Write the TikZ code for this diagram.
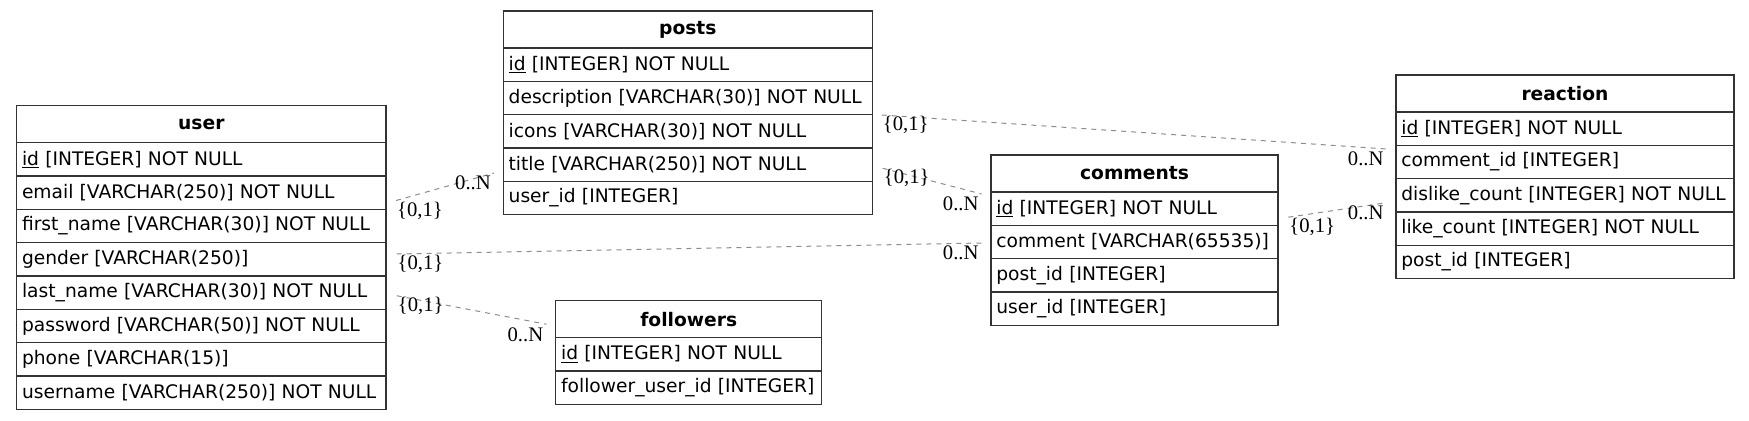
\documentclass[tikz,border=0pt]{standalone}
\usepackage{fontspec}
\setmainfont{DejaVu Sans}
\newfontfamily\cardfont{Liberation Serif}
\usetikzlibrary{positioning}

\definecolor{tblline}{HTML}{333333}
\definecolor{edgegray}{HTML}{8C8C8C}

\tikzset{
  tblhead/.style={draw=tblline, line width=0.9pt, text width=#1, align=center,
    minimum height=27.75pt, inner xsep=4pt, inner ysep=0pt, outer sep=0pt,
    font=\fontsize{14pt}{17pt}\selectfont\bfseries},
  tblrow/.style={draw=tblline, line width=0.9pt, text width=#1, align=left,
    minimum height=25pt, inner xsep=4pt, inner ysep=0pt, outer sep=0pt,
    font=\fontsize{14pt}{17pt}\selectfont},
  rel/.style={draw=edgegray, line width=0.75pt, dash pattern=on 3.75pt off 3.75pt},
  cardone/.style={anchor=north west, inner sep=0.5pt, font=\cardfont\fontsize{15.5pt}{17pt}\selectfont},
  cardmany/.style={anchor=north east, inner sep=2pt, font=\cardfont\fontsize{15.5pt}{17pt}\selectfont}
}

\begin{document}
\begin{tikzpicture}[x=1pt, y=-1pt]
    \useasboundingbox (0,0) rectangle (1311.75,315.75);

    % user
    \node[tblhead=269pt, anchor=north west] (user) at (12.5,79.3) {user};
    \node[tblrow=269pt, below=0pt of user] (user-id) {\underline{id} [INTEGER] NOT NULL};
    \node[tblrow=269pt, below=0pt of user-id] (user-email) {email [VARCHAR(250)] NOT NULL};
    \node[tblrow=269pt, below=0pt of user-email] (user-firstname) {first\_name [VARCHAR(30)] NOT NULL};
    \node[tblrow=269pt, below=0pt of user-firstname] (user-gender) {gender [VARCHAR(250)]};
    \node[tblrow=269pt, below=0pt of user-gender] (user-lastname) {last\_name [VARCHAR(30)] NOT NULL};
    \node[tblrow=269pt, below=0pt of user-lastname] (user-password) {password [VARCHAR(50)] NOT NULL};
    \node[tblrow=269pt, below=0pt of user-password] (user-phone) {phone [VARCHAR(15)]};
    \node[tblrow=269pt, below=0pt of user-phone] (user-username) {username [VARCHAR(250)] NOT NULL};

    % posts
    \node[tblhead=268.7pt, anchor=north west] (posts) at (377.5,8.25) {posts};
    \node[tblrow=268.7pt, below=0pt of posts] (posts-id) {\underline{id} [INTEGER] NOT NULL};
    \node[tblrow=268.7pt, below=0pt of posts-id] (posts-desc) {description [VARCHAR(30)] NOT NULL};
    \node[tblrow=268.7pt, below=0pt of posts-desc] (posts-icons) {icons [VARCHAR(30)] NOT NULL};
    \node[tblrow=268.7pt, below=0pt of posts-icons] (posts-title) {title [VARCHAR(250)] NOT NULL};
    \node[tblrow=268.7pt, below=0pt of posts-title] (posts-userid) {user\_id [INTEGER]};

    % comments
    \node[tblhead=207.25pt, anchor=north west] (comments) at (743.25,116.25) {comments};
    \node[tblrow=207.25pt, below=0pt of comments] (comments-id) {\underline{id} [INTEGER] NOT NULL};
    \node[tblrow=207.25pt, below=0pt of comments-id] (comments-comment) {comment [VARCHAR(65535)]};
    \node[tblrow=207.25pt, below=0pt of comments-comment] (comments-postid) {post\_id [INTEGER]};
    \node[tblrow=207.25pt, below=0pt of comments-postid] (comments-userid) {user\_id [INTEGER]};

    % reaction
    \node[tblhead=245.5pt, anchor=north west] (reaction) at (1047,56.25) {reaction};
    \node[tblrow=245.5pt, below=0pt of reaction] (reaction-id) {\underline{id} [INTEGER] NOT NULL};
    \node[tblrow=245.5pt, below=0pt of reaction-id] (reaction-commentid) {comment\_id [INTEGER]};
    \node[tblrow=245.5pt, below=0pt of reaction-commentid] (reaction-dislike) {dislike\_count [INTEGER] NOT NULL};
    \node[tblrow=245.5pt, below=0pt of reaction-dislike] (reaction-like) {like\_count [INTEGER] NOT NULL};
    \node[tblrow=245.5pt, below=0pt of reaction-like] (reaction-postid) {post\_id [INTEGER]};

    % followers
    \node[tblhead=191.5pt, anchor=north west] (followers) at (416.8,225.5) {followers};
    \node[tblrow=191.5pt, below=0pt of followers] (followers-id) {\underline{id} [INTEGER] NOT NULL};
    \node[tblrow=191.5pt, below=0pt of followers-id] (followers-fuid) {follower\_user\_id [INTEGER]};

    % relations
    \draw[rel] ([shift={(7.5pt,-5.85pt)}]user-email.east) -- ([shift={(-7pt,-6.25pt)}]posts-title.west)
        node[pos=0, cardone] {\{0,1\}} node[pos=1, cardmany] {0..N};
    \draw[rel] ([shift={(7.9pt,4.05pt)}]user-gender.east) -- ([shift={(-7pt,-0.75pt)}]comments-comment.west)
        node[pos=0, cardone] {\{0,1\}} node[pos=1, cardmany] {0..N};
    \draw[rel] ([shift={(8pt,-2.25pt)}]user-lastname.east) -- ([shift={(-7pt,-3.8pt)}]followers.west)
        node[pos=0, cardone] {\{0,1\}} node[pos=1, cardmany] {0..N};
    \draw[rel] ([shift={(7.1pt,12.25pt)}]posts-icons.east) -- ([shift={(-7pt,9.75pt)}]reaction-commentid.west)
        node[pos=0, cardone] {\{0,1\}} node[pos=1, cardmany] {0..N};
    \draw[rel] ([shift={(7.8pt,-2.7pt)}]posts-title.east) -- ([shift={(-7pt,11pt)}]comments-id.west)
        node[pos=0, cardone] {\{0,1\}} node[pos=1, cardmany] {0..N};
    \draw[rel] ([shift={(7.7pt,-6.4pt)}]comments-id.east) -- ([shift={(-7pt,-5.5pt)}]reaction-dislike.west)
        node[pos=0, cardone] {\{0,1\}} node[pos=1, cardmany] {0..N};
\end{tikzpicture}
\end{document}
